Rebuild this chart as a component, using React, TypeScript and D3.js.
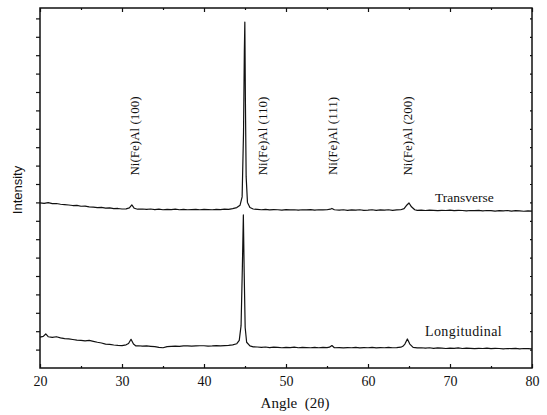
import { useEffect, useRef } from 'react'
import * as d3 from 'd3'

// XRD scans, [angle 2θ, intensity (arb. units)]
const transverse: [number, number][] = [
  [20, 8.97], [20.5, 8.95], [21, 8.99], [21.5, 8.93], [22, 8.94], [22.5, 8.9], [23, 8.88],
  [23.5, 8.86], [24, 8.83], [24.5, 8.84], [25, 8.79], [25.5, 8.8], [26, 8.76], [26.5, 8.74],
  [27, 8.72], [27.5, 8.73], [28, 8.69], [28.5, 8.7], [29, 8.66], [29.5, 8.67], [30, 8.64],
  [30.5, 8.65], [30.9, 8.7], [31.2, 8.86], [31.5, 8.68], [31.9, 8.63], [32.5, 8.64], [33, 8.62],
  [33.5, 8.64], [34, 8.61], [34.5, 8.63], [35, 8.6], [35.5, 8.62], [36, 8.61], [36.5, 8.63],
  [37, 8.6], [37.5, 8.62], [38, 8.6], [38.5, 8.61], [39, 8.62], [39.5, 8.6], [40, 8.62],
  [40.5, 8.61], [41, 8.6], [41.5, 8.62], [42, 8.61], [42.5, 8.63], [43, 8.62], [43.5, 8.66],
  [44, 8.72], [44.4, 8.85], [44.65, 9.3], [44.82, 12.8], [44.92, 17.2], [44.98, 18.8],
  [45.05, 14.5], [45.14, 10.4], [45.3, 9.0], [45.6, 8.72], [46, 8.64], [46.5, 8.62], [47, 8.6],
  [47.5, 8.62], [48, 8.59], [48.5, 8.61], [49, 8.6], [49.5, 8.58], [50, 8.61], [50.5, 8.59],
  [51, 8.6], [51.5, 8.58], [52, 8.6], [52.5, 8.59], [53, 8.61], [53.5, 8.58], [54, 8.6],
  [54.5, 8.59], [55, 8.6], [55.4, 8.63], [55.6, 8.67], [55.9, 8.6], [56.5, 8.58], [57, 8.6],
  [57.5, 8.57], [58, 8.59], [58.5, 8.58], [59, 8.6], [59.5, 8.57], [60, 8.58], [60.5, 8.6],
  [61, 8.57], [61.5, 8.59], [62, 8.58], [62.5, 8.6], [63, 8.57], [63.5, 8.59], [64, 8.6],
  [64.4, 8.66], [64.75, 8.86], [65.0, 8.97], [65.3, 8.76], [65.7, 8.6], [66, 8.57],
  [66.5, 8.58], [67, 8.56], [67.5, 8.58], [68, 8.57], [68.5, 8.55], [69, 8.57], [69.5, 8.56],
  [70, 8.58], [70.5, 8.55], [71, 8.57], [71.5, 8.56], [72, 8.54], [72.5, 8.56], [73, 8.55],
  [73.5, 8.57], [74, 8.54], [74.5, 8.56], [75, 8.55], [75.5, 8.53], [76, 8.55], [76.5, 8.54],
  [77, 8.56], [77.5, 8.53], [78, 8.55], [78.5, 8.54], [79, 8.52], [79.5, 8.54], [80, 8.53],
]

const longitudinal: [number, number][] = [
  [20, 1.68], [20.4, 1.72], [20.7, 1.85], [21, 1.7], [21.5, 1.66], [22, 1.7], [22.5, 1.64],
  [23, 1.6], [23.5, 1.58], [24, 1.55], [24.5, 1.52], [25, 1.5], [25.5, 1.47], [26, 1.5],
  [26.5, 1.45], [27, 1.4], [27.5, 1.36], [28, 1.3], [28.5, 1.28], [29, 1.25], [29.5, 1.23],
  [30, 1.22], [30.5, 1.26], [30.8, 1.33], [31.1, 1.56], [31.4, 1.3], [31.7, 1.2], [32, 1.21],
  [32.5, 1.19], [33, 1.2], [33.5, 1.18], [34, 1.16], [34.5, 1.12], [35, 1.1], [35.5, 1.16],
  [36, 1.18], [36.5, 1.19], [37, 1.18], [37.5, 1.2], [38, 1.2], [38.5, 1.19], [39, 1.2],
  [39.5, 1.21], [40, 1.21], [40.5, 1.19], [41, 1.2], [41.5, 1.22], [42, 1.2], [42.5, 1.22],
  [43, 1.23], [43.5, 1.26], [44, 1.32], [44.3, 1.5], [44.52, 2.3], [44.68, 5.5], [44.8, 8.32],
  [44.9, 5.2], [45.02, 2.2], [45.2, 1.4], [45.6, 1.2], [46, 1.15], [46.5, 1.14], [47, 1.12],
  [47.5, 1.14], [48, 1.11], [48.5, 1.13], [49, 1.12], [49.5, 1.1], [50, 1.12], [50.5, 1.11],
  [51, 1.13], [51.5, 1.1], [52, 1.12], [52.5, 1.11], [53, 1.1], [53.5, 1.12], [54, 1.1],
  [54.5, 1.12], [55, 1.11], [55.3, 1.13], [55.6, 1.22], [55.9, 1.1], [56.5, 1.11], [57, 1.09],
  [57.5, 1.11], [58, 1.1], [58.5, 1.12], [59, 1.09], [59.5, 1.11], [60, 1.1], [60.5, 1.12],
  [61, 1.09], [61.5, 1.11], [62, 1.1], [62.5, 1.12], [63, 1.1], [63.5, 1.11], [64, 1.13],
  [64.25, 1.18], [64.5, 1.3], [64.8, 1.58], [65.1, 1.3], [65.5, 1.12], [66, 1.09],
  [66.5, 1.1], [67, 1.08], [67.5, 1.1], [68, 1.07], [68.5, 1.09], [69, 1.08], [69.5, 1.06],
  [70, 1.08], [70.5, 1.07], [71, 1.09], [71.5, 1.06], [72, 1.08], [72.5, 1.07], [73, 1.05],
  [73.5, 1.07], [74, 1.06], [74.5, 1.08], [75, 1.05], [75.5, 1.07], [76, 1.06], [76.5, 1.04],
  [77, 1.06], [77.5, 1.05], [78, 1.07], [78.5, 1.04], [79, 1.06], [79.5, 1.05], [80, 1.04],
]

const peakLabels = ['Ni(Fe)Al (100)', 'Ni(Fe)Al (110)', 'Ni(Fe)Al (111)', 'Ni(Fe)Al (200)']
const peakAngles = [31.6, 47.2, 55.7, 64.9]

const xTicks = [20, 30, 40, 50, 60, 70, 80]
const xMinorTicks = [25, 35, 45, 55, 65, 75]
const yTicks = d3.range(1, 20)

const App = () => {
  const ref = useRef<SVGSVGElement>(null)

  useEffect(() => {
    const width = 547
    const height = 415
    const m = { left: 40, right: 15, top: 8, bottom: 47 }
    const svg = d3.select(ref.current)
    svg.selectAll('*').remove()
    svg.attr('width', width).attr('height', height)

    const x = d3.scaleLinear().domain([20, 80]).range([m.left, width - m.right])
    const y = d3.scaleLinear().domain([0, 19.565]).range([height - m.bottom, m.top])
    const serif = '"Liberation Serif", "DejaVu Serif", serif'

    const line = d3.line<[number, number]>()
      .x(d => x(d[0]))
      .y(d => y(d[1]))

    ;[transverse, longitudinal].forEach(series => {
      svg.append('path')
        .datum(series)
        .attr('d', line)
        .attr('fill', 'none')
        .attr('stroke', '#111')
        .attr('stroke-width', 1.2)
        .attr('stroke-linejoin', 'round')
    })

    // frame
    svg.append('rect')
      .attr('x', m.left)
      .attr('y', m.top)
      .attr('width', width - m.left - m.right)
      .attr('height', height - m.top - m.bottom)
      .attr('fill', 'none')
      .attr('stroke', '#111')
      .attr('stroke-width', 1.5)

    // bottom axis: ticks point inward
    const bottom = svg.append('g').attr('transform', `translate(0,${height - m.bottom})`)
    bottom.call(d3.axisBottom(x).tickValues(xTicks).tickSize(-4).tickPadding(8).tickFormat(d3.format('d')))
    bottom.append('g').call(d3.axisBottom(x).tickValues(xMinorTicks).tickSize(-2).tickFormat(() => ''))
    bottom.selectAll('.domain').remove()
    bottom.selectAll('text')
      .attr('font-family', serif)
      .attr('font-size', 14)
      .attr('fill', '#111')

    // top axis
    const top = svg.append('g').attr('transform', `translate(0,${m.top})`)
    top.call(d3.axisTop(x).tickValues(xTicks).tickSize(-4).tickFormat(() => ''))
    top.append('g').call(d3.axisTop(x).tickValues(xMinorTicks).tickSize(-2).tickFormat(() => ''))
    top.selectAll('.domain').remove()

    // left axis: small outward ticks, no labels
    const left = svg.append('g').attr('transform', `translate(${m.left},0)`)
    left.call(d3.axisLeft(y).tickValues(yTicks).tickSize(4).tickFormat(() => ''))
    left.selectAll('.domain').remove()

    // right axis: short inward ticks
    const right = svg.append('g').attr('transform', `translate(${width - m.right},0)`)
    right.call(d3.axisRight(y).tickValues(yTicks).tickSize(-2).tickFormat(() => ''))
    right.selectAll('.domain').remove()

    svg.selectAll('.tick line').attr('stroke', '#111').attr('stroke-width', 1.2)

    // peak labels
    svg.selectAll('.peak')
      .data(peakLabels)
      .enter()
      .append('text')
      .attr('class', 'peak')
      .attr('transform', (d, i) => `translate(${x(peakAngles[i]) + 4},136) rotate(-90)`)
      .attr('text-anchor', 'middle')
      .attr('font-family', serif)
      .attr('font-size', 13)
      .attr('fill', '#111')
      .text(d => d)

    svg.append('text')
      .attr('x', 435)
      .attr('y', 202)
      .attr('font-family', serif)
      .attr('font-size', 13.5)
      .attr('fill', '#111')
      .text('Transverse')

    svg.append('text')
      .attr('x', 425)
      .attr('y', 336)
      .attr('font-family', serif)
      .attr('font-size', 14)
      .attr('letter-spacing', 0.4)
      .attr('fill', '#111')
      .text('Longitudinal')

    svg.append('text')
      .attr('x', (m.left + width - m.right) / 2 + 9)
      .attr('y', 408)
      .attr('text-anchor', 'middle')
      .attr('font-family', serif)
      .attr('font-size', 15)
      .attr('fill', '#111')
      .style('white-space', 'pre')
      .text('Angle  (2θ)')

    svg.append('text')
      .attr('transform', `translate(22,190) rotate(-90)`)
      .attr('text-anchor', 'middle')
      .attr('font-family', '"Liberation Sans", Arial, sans-serif')
      .attr('font-size', 13)
      .attr('fill', '#111')
      .text('Intensity')
  }, [])

  return (
    <div style={{ position: 'absolute', left: 0, top: 0 }}>
      <svg ref={ref} style={{ display: 'block', background: '#fff' }}></svg>
    </div>
  )
}

export default App
